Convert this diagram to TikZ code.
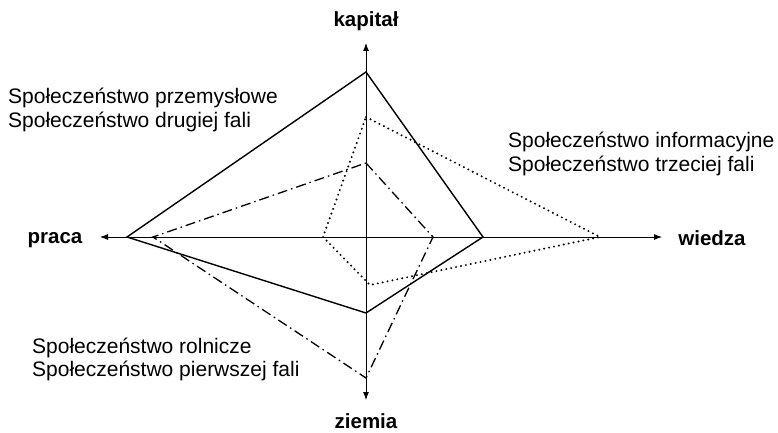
\documentclass[tikz,border=0pt]{standalone}
\usepackage{fontspec}
\setmainfont{Liberation Sans}
\usetikzlibrary{arrows.meta}
\begin{document}
\begin{tikzpicture}[x=1pt,y=-1pt,
  axis/.style={line width=0.9pt,{Latex[length=8pt,width=6pt]}-{Latex[length=8pt,width=6pt]}},
  solidpoly/.style={line width=1.4pt,line join=miter},
  dotpoly/.style={line width=2.2pt,line cap=round,dash pattern=on 0pt off 5pt},
  dashdotpoly/.style={line width=1.3pt,dash pattern=on 10pt off 4pt on 1.5pt off 4pt},
  lbl/.style={font=\fontsize{21}{23}\selectfont,inner sep=0pt,anchor=base west},
  axlbl/.style={font=\fontsize{20.5}{23}\bfseries\selectfont,inner sep=0pt,anchor=base}]
\useasboundingbox (0,0) rectangle (778,433);
% axis ends
\coordinate (T) at (366,43);
\coordinate (B) at (366,400);
\coordinate (L) at (100,237);
\coordinate (R) at (662,237);
\draw[axis] (T) -- (B);
\draw[axis] (L) -- (R);
% solid polygon
\coordinate (s1) at (366,72);
\coordinate (s2) at (483,237);
\coordinate (s3) at (366,313);
\coordinate (s4) at (127,237);
\draw[solidpoly] (s1) -- (s2) -- (s3) -- (s4) -- cycle;
% dotted polygon
\coordinate (d1) at (366,117);
\coordinate (d2) at (600,237);
\coordinate (d3) at (370,285);
\coordinate (d4) at (323,237);
\draw[dotpoly] (d1) -- (d2) -- (d3) -- (d4) -- cycle;
% dash-dot polygon
\coordinate (c1) at (366,163);
\coordinate (c2) at (433,237);
\coordinate (c3) at (366,378);
\coordinate (c4) at (153,237);
\draw[dashdotpoly] (c1) -- (c2) -- (c3) -- (c4) -- cycle;
% axis labels
\node[axlbl] (kap) at (366,27) {kapitał};
\node[axlbl] (zie) at (366,428) {ziemia};
\node[axlbl] (pra) at (55,243) {praca};
\node[axlbl] (wie) at (712,245) {wiedza};
% texts
\node[lbl] (p1) at (8,104) {Społeczeństwo przemysłowe};
\node[lbl] (p2) at (8,127) {Społeczeństwo drugiej fali};
\node[lbl] (i1) at (508,147) {Społeczeństwo informacyjne};
\node[lbl] (i2) at (508,171) {Społeczeństwo trzeciej fali};
\node[lbl] (r1) at (32,353) {Społeczeństwo rolnicze};
\node[lbl] (r2) at (32,376) {Społeczeństwo pierwszej fali};
\end{tikzpicture}
\end{document}
